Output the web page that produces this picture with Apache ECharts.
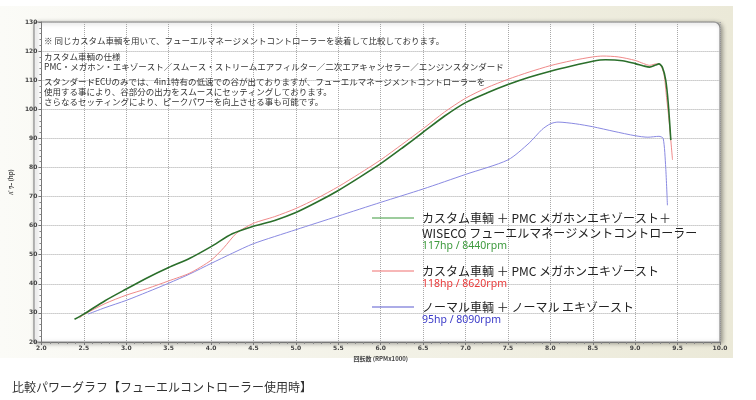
<!DOCTYPE html>
<html>
<head>
<meta charset="utf-8">
<title>比較パワーグラフ</title>
<script src="https://cdn.jsdelivr.net/npm/echarts@6/dist/echarts.min.js"></script>
<style>
  html, body { margin: 0; padding: 0; background: #fff; }
  #chart { width: 756px; height: 400px; }
</style>
</head>
<body>
<div id="chart"></div>
<script>
// 横軸: 回転数 (RPM x 1000)、縦軸: パワー (hp)
const xTicks = ['2.0', '2.5', '3.0', '3.5', '4.0', '4.5', '5.0', '5.5', '6.0', '6.5', '7.0', '7.5', '8.0', '8.5', '9.0', '9.5', '10.0']
const yTicks = ['20', '30', '40', '50', '60', '70', '80', '90', '100', '110', '120', '130']

// カスタム車輌 + PMC + WISECO (緑)
const greenRpm = [2.39, 2.5, 2.75, 3.0, 3.25, 3.5, 3.75, 4.0, 4.25, 4.5, 4.75, 5.0, 5.25, 5.5, 5.75, 6.0, 6.25, 6.5, 6.75, 7.0, 7.25, 7.5, 7.75, 8.0, 8.25, 8.5, 8.65, 8.85, 9.0, 9.1, 9.17, 9.24, 9.28, 9.32, 9.36, 9.39, 9.42]
const greenHp = [27.8, 29.6, 34.2, 38.2, 42.1, 45.6, 48.8, 52.8, 57.2, 59.8, 61.8, 64.5, 68.1, 72.1, 76.6, 81.3, 86.6, 92.1, 97.6, 102.3, 105.6, 108.5, 111.0, 113.1, 114.9, 116.5, 117.0, 116.7, 115.7, 114.9, 114.5, 115.2, 115.6, 114.5, 110.0, 102.0, 89.4]

// カスタム車輌 + PMC (赤)
const redRpm = [2.45, 2.5, 2.75, 3.0, 3.25, 3.5, 3.75, 4.0, 4.15, 4.3, 4.5, 4.75, 5.0, 5.25, 5.5, 5.75, 6.0, 6.25, 6.5, 6.75, 7.0, 7.25, 7.5, 7.75, 8.0, 8.25, 8.5, 8.62, 8.8, 9.0, 9.1, 9.17, 9.25, 9.3, 9.34, 9.37, 9.4, 9.44]
const redHp = [28.3, 29.4, 33.2, 36.1, 38.4, 41.0, 43.7, 48.1, 52.4, 57.4, 60.8, 63.1, 65.9, 69.4, 73.4, 77.9, 82.6, 87.9, 93.3, 99.0, 103.8, 107.4, 110.3, 112.8, 115.0, 116.7, 118.0, 118.3, 118.0, 116.8, 115.7, 115.1, 115.6, 115.2, 112.0, 104.0, 96.0, 82.6]

// ノーマル車輌 + ノーマル (青)
const blueRpm = [2.55, 2.75, 3.0, 3.25, 3.5, 3.75, 4.0, 4.25, 4.5, 5.0, 5.5, 6.0, 6.5, 7.0, 7.5, 7.75, 7.9, 8.0, 8.09, 8.3, 8.5, 8.75, 9.0, 9.15, 9.28, 9.33, 9.36, 9.38]
const blueHp = [29.6, 31.8, 34.3, 37.2, 40.2, 43.4, 47.0, 50.5, 53.8, 58.6, 63.3, 68.0, 72.6, 77.6, 82.6, 88.4, 93.0, 95.0, 95.6, 95.0, 94.0, 92.4, 90.9, 90.4, 90.7, 90.0, 80.0, 67.0]

const notes = [
  '※ 同じカスタム車輌を用いて、フューエルマネージメントコントローラーを装着して比較しております。',
  'カスタム車輌の仕様',
  'PMC・メガホン・エキゾースト／スムース・ストリームエアフィルター／二次エアキャンセラー／エンジンスタンダード',
  'スタンダードECUのみでは、4in1特有の低速での谷が出ておりますが、フューエルマネージメントコントローラーを',
  '使用する事により、谷部分の出力をスムースにセッティングしております。',
  'さらなるセッティングにより、ピークパワーを向上させる事も可能です。'
]
const legendNames = [
  ['カスタム車輌 ＋ PMC メガホンエキゾースト＋', 'WISECO フューエルマネージメントコントローラー'],
  ['カスタム車輌 ＋ PMC メガホンエキゾースト'],
  ['ノーマル車輌 ＋ ノーマル エキゾースト']
]
const peakTexts = ['117hp / 8440rpm', '118hp / 8620rpm', '95hp / 8090rpm']

const pairs = (xs, ys) => xs.map((x, i) => [x, ys[i]])

const jp = '"Noto Sans CJK JP", "Noto Sans", sans-serif'
const grid = { left: 34, right: 36, top: 22, bottom: 58 }
const chart = echarts.init(document.getElementById('chart'))

// 背景パネルと枠
const graphics = [
  {
    type: 'rect', z: -20, silent: true,
    shape: { x: 0, y: 6, width: 733, height: 352 },
    style: {
      fill: new echarts.graphic.LinearGradient(0, 0, 1, 0, [
        { offset: 0, color: '#fbfbf7' },
        { offset: 1, color: '#ebe9d8' }
      ])
    }
  },
  {
    type: 'rect', z: -10, silent: true,
    shape: { x: 34, y: 22, width: 686, height: 320, r: [3, 6, 0, 0] },
    style: { fill: '#fff', stroke: '#8c8c8c', lineWidth: 1.2, shadowBlur: 4, shadowOffsetX: 2, shadowOffsetY: 1, shadowColor: 'rgba(0,0,0,0.35)' }
  }
]
// 説明文
const noteY = [41, 57, 67, 82, 92, 102]
notes.forEach((t, i) => {
  graphics.push({
    type: 'text', z: 10, silent: true,
    style: { x: 44, y: noteY[i], text: t, fill: '#333', font: '8.5px ' + jp, textVerticalAlign: 'middle' }
  })
})
// 凡例
const legendColors = ['#3d9a3d', '#f07070', '#5a5ad0']
const textColors = ['#3d9a3d', '#e83a3a', '#3a3ac8']
const legendY = [218, 271, 307]
legendNames.forEach((lines, i) => {
  graphics.push({
    type: 'line', z: 10, silent: true,
    shape: { x1: 372, y1: legendY[i], x2: 414, y2: legendY[i] },
    style: { stroke: legendColors[i], lineWidth: 1.2 }
  })
  lines.forEach((t, j) => {
    graphics.push({
      type: 'text', z: 10, silent: true,
      style: { x: 422, y: legendY[i] + j * 15, text: t, fill: '#222', font: '12px ' + jp, textVerticalAlign: 'middle' }
    })
  })
  graphics.push({
    type: 'text', z: 10, silent: true,
    style: { x: 422, y: legendY[i] + lines.length * 15 - 2, text: peakTexts[i], fill: textColors[i], font: '10.5px "Noto Sans", sans-serif', textVerticalAlign: 'middle' }
  })
})
// 下のキャプション
graphics.push({
  type: 'text', silent: true,
  style: { x: 12, y: 387, text: '比較パワーグラフ【フューエルコントローラー使用時】', fill: '#333', font: '12px ' + jp, textVerticalAlign: 'middle' }
})

const axisLabel = { fontSize: 6, fontWeight: 'bold', color: '#444', fontFamily: 'DejaVu Sans' }
const splitLine = { show: true, lineStyle: { color: '#a8a8a8', type: [1, 1], width: 1 } }

const option = {
  animation: false,
  grid: grid,
  graphic: graphics,
  xAxis: {
    type: 'value', min: 2, max: 10, interval: 0.5,
    name: '回転数 (RPMx1000)', nameLocation: 'middle', nameGap: 11,
    nameTextStyle: { fontSize: 6, fontWeight: 'bold', color: '#444', fontFamily: jp },
    axisLine: { lineStyle: { color: '#777', width: 1 } },
    axisTick: { show: true, length: 3, lineStyle: { color: '#777' } },
    minorTick: { show: true, splitNumber: 5, length: 2, lineStyle: { color: '#888' } },
    axisLabel: Object.assign({ margin: 3, formatter: (v) => xTicks[Math.round((v - 2) / 0.5)] }, axisLabel),
    splitLine: splitLine
  },
  yAxis: {
    type: 'value', min: 20, max: 130, interval: 10,
    name: 'ﾊﾟﾜｰ (hp)', nameLocation: 'middle', nameGap: 17, nameRotate: 90,
    nameTextStyle: { fontSize: 6, fontWeight: 'bold', color: '#444', fontFamily: jp },
    axisLine: { show: true, lineStyle: { color: '#777', width: 1 } },
    axisTick: { show: true, length: 3, lineStyle: { color: '#777' } },
    minorTick: { show: true, splitNumber: 5, length: 2, lineStyle: { color: '#888' } },
    axisLabel: Object.assign({ margin: 4, formatter: (v) => yTicks[Math.round((v - 20) / 10)] }, axisLabel),
    splitLine: splitLine
  },
  series: [
    {
      name: 'blue', type: 'line', data: pairs(blueRpm, blueHp), showSymbol: false,
      smooth: 0.25, lineStyle: { color: '#8a8ae2', width: 1 }
    },
    {
      name: 'red', type: 'line', data: pairs(redRpm, redHp), showSymbol: false,
      smooth: 0.25, lineStyle: { color: '#f08a8a', width: 1 }
    },
    {
      name: 'green', type: 'line', data: pairs(greenRpm, greenHp), showSymbol: false,
      smooth: 0.25, lineStyle: { color: '#2b6f2b', width: 1.6 }
    }
  ]
}
chart.setOption(option)
</script>
</body>
</html>
